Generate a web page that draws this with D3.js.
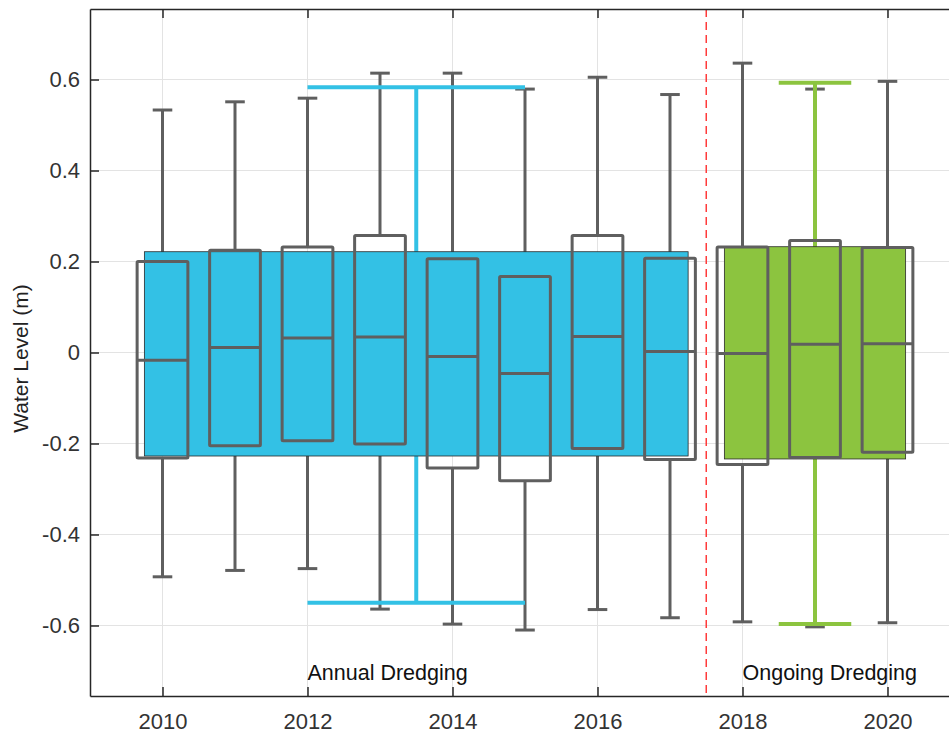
<!DOCTYPE html>
<html><head><meta charset="utf-8">
<script src="https://cdn.jsdelivr.net/npm/d3@7"></script>
<style>body{margin:0;background:#fff}svg{display:block}</style>
</head><body>
<script>
// ---- data ----
const years      = [2010, 2011, 2012, 2013, 2014, 2015, 2016, 2017, 2018, 2019, 2020];
const medians    = [-0.017, 0.011, 0.032, 0.034, -0.009, -0.046, 0.035, 0.002, -0.002, 0.018, 0.019];
const q3s        = [0.200, 0.225, 0.232, 0.257, 0.206, 0.167, 0.257, 0.207, 0.232, 0.246, 0.231];
const q1s        = [-0.232, -0.205, -0.194, -0.201, -0.254, -0.282, -0.211, -0.235, -0.246, -0.231, -0.219];
const whiskHigh  = [0.533, 0.551, 0.559, 0.614, 0.614, 0.579, 0.605, 0.567, 0.636, 0.579, 0.596];
const whiskLow   = [-0.493, -0.479, -0.475, -0.564, -0.597, -0.610, -0.565, -0.583, -0.592, -0.603, -0.594];

const groupNames  = ["Annual Dredging", "Ongoing Dredging"];
const groupStart  = [2009.75, 2017.75];
const groupEnd    = [2017.25, 2020.25];
const groupCenter = [2013.5, 2019];
const groupCapL   = [2012, 2018.5];
const groupCapR   = [2015, 2019.5];
const groupQ1     = [-0.2275, -0.234];
const groupQ3     = [0.2215, 0.2325];
const groupLow    = [-0.550, -0.597];
const groupHigh   = [0.583, 0.593];
const groupColors = ["#33C1E5", "#8CC43F"];
const labelX      = [2012, 2018];
const labelY      = -0.72;

const dividerYear = 2017.5;
const xTicks = [2010, 2012, 2014, 2016, 2018, 2020];
const yTicks = [-0.6, -0.4, -0.2, 0, 0.2, 0.4, 0.6];

// ---- layout ----
const W = 949, H = 733;
const pL = 90, pR = 960, pT = 9, pB = 696;
const boxW = 0.7, capW = 0.27;
const gray = "#5f5f5f";
const font = "'Liberation Sans', Arial, Helvetica, sans-serif";

const x = d3.scaleLinear().domain([2009, 2021]).range([pL, pR]);
const y = d3.scaleLinear().domain([-0.755, 0.755]).range([pB, pT]);

const svg = d3.select("body").append("svg").attr("width", W).attr("height", H);

// grid
const grid = svg.append("g");
grid.selectAll(".gx").data(xTicks).join("line")
  .attr("x1", d => x(d)).attr("x2", d => x(d)).attr("y1", pT).attr("y2", pB)
  .attr("stroke", "#e3e3e3").attr("stroke-width", 1);
grid.selectAll(".gy").data(yTicks).join("line")
  .attr("x1", pL).attr("x2", pR).attr("y1", d => y(d)).attr("y2", d => y(d))
  .attr("stroke", "#e3e3e3").attr("stroke-width", 1);

const idx = d3.range(years.length);

// gray whiskers
const wg = svg.append("g").attr("stroke", gray).attr("stroke-width", 3);
wg.selectAll(".wu").data(idx).join("line")
  .attr("x1", i => x(years[i])).attr("x2", i => x(years[i]))
  .attr("y1", i => y(q3s[i])).attr("y2", i => y(whiskHigh[i]));
wg.selectAll(".wl").data(idx).join("line")
  .attr("x1", i => x(years[i])).attr("x2", i => x(years[i]))
  .attr("y1", i => y(q1s[i])).attr("y2", i => y(whiskLow[i]));
wg.selectAll(".cu").data(idx).join("line")
  .attr("x1", i => x(years[i] - capW / 2)).attr("x2", i => x(years[i] + capW / 2))
  .attr("y1", i => y(whiskHigh[i])).attr("y2", i => y(whiskHigh[i]));
wg.selectAll(".cl").data(idx).join("line")
  .attr("x1", i => x(years[i] - capW / 2)).attr("x2", i => x(years[i] + capW / 2))
  .attr("y1", i => y(whiskLow[i])).attr("y2", i => y(whiskLow[i]));

// group whiskers and boxes
const gi = d3.range(groupNames.length);
const gg = svg.append("g");
gg.selectAll(".gw").data(gi).join("line")
  .attr("x1", i => x(groupCenter[i])).attr("x2", i => x(groupCenter[i]))
  .attr("y1", i => y(groupLow[i])).attr("y2", i => y(groupHigh[i]))
  .attr("stroke", i => groupColors[i]).attr("stroke-width", 4);
gg.selectAll(".gcu").data(gi).join("line")
  .attr("x1", i => x(groupCapL[i])).attr("x2", i => x(groupCapR[i]))
  .attr("y1", i => y(groupHigh[i])).attr("y2", i => y(groupHigh[i]))
  .attr("stroke", i => groupColors[i]).attr("stroke-width", 4);
gg.selectAll(".gcl").data(gi).join("line")
  .attr("x1", i => x(groupCapL[i])).attr("x2", i => x(groupCapR[i]))
  .attr("y1", i => y(groupLow[i])).attr("y2", i => y(groupLow[i]))
  .attr("stroke", i => groupColors[i]).attr("stroke-width", 4);
gg.selectAll("rect").data(gi).join("rect")
  .attr("x", i => x(groupStart[i])).attr("width", i => x(groupEnd[i]) - x(groupStart[i]))
  .attr("y", i => y(groupQ3[i])).attr("height", i => y(groupQ1[i]) - y(groupQ3[i]))
  .attr("fill", i => groupColors[i]).attr("stroke", "#2a2a2a").attr("stroke-width", 0.8);

// gray boxes and medians
const bg = svg.append("g");
bg.selectAll("rect").data(idx).join("rect")
  .attr("x", i => x(years[i] - boxW / 2)).attr("width", x(2010 + boxW) - x(2010))
  .attr("y", i => y(q3s[i])).attr("height", i => y(q1s[i]) - y(q3s[i]))
  .attr("fill", "none").attr("stroke", gray).attr("stroke-width", 3).attr("rx", 1);
bg.selectAll(".med").data(idx).join("line")
  .attr("x1", i => x(years[i] - boxW / 2)).attr("x2", i => x(years[i] + boxW / 2))
  .attr("y1", i => y(medians[i])).attr("y2", i => y(medians[i]))
  .attr("stroke", gray).attr("stroke-width", 3);

// divider
svg.append("line")
  .attr("x1", x(dividerYear)).attr("x2", x(dividerYear)).attr("y1", pT).attr("y2", pB)
  .attr("stroke", "#FF3B3B").attr("stroke-width", 1.5).attr("stroke-dasharray", "8,5");

// group labels
svg.selectAll(".glab").data(gi).join("text")
  .attr("x", i => x(labelX[i])).attr("y", y(labelY))
  .attr("font-family", font).attr("font-size", 21.5).attr("fill", "#111")
  .text(i => groupNames[i]);

// axes
const axisColor = "#262626";
const ax = svg.append("g").attr("transform", `translate(0,${pB})`)
  .call(d3.axisBottom(x).tickValues(xTicks).tickFormat(d3.format("d")).tickSizeInner(-9).tickSizeOuter(0).tickPadding(17));
const ay = svg.append("g").attr("transform", `translate(${pL},0)`)
  .call(d3.axisLeft(y).tickValues(yTicks).tickFormat(d => d === 0 ? "0" : d3.format(".1f")(d).replace("−", "-")).tickSizeInner(-9).tickSizeOuter(0).tickPadding(10));
const axt = svg.append("g").attr("transform", `translate(0,${pT})`)
  .call(d3.axisTop(x).tickValues(xTicks).tickFormat("").tickSizeInner(-9).tickSizeOuter(0));
[ax, ay, axt].forEach(g => {
  g.selectAll(".domain").attr("stroke", axisColor).attr("stroke-width", 1.5);
  g.selectAll(".tick line").attr("stroke", axisColor).attr("stroke-width", 1.5);
  g.selectAll("text").attr("font-family", font).attr("font-size", 22).attr("fill", "#333");
});
// right frame (off-canvas)
svg.append("line").attr("x1", pR).attr("x2", pR).attr("y1", pT).attr("y2", pB)
  .attr("stroke", axisColor).attr("stroke-width", 1.5);

// y label
svg.append("text")
  .attr("transform", `translate(28,${(pT + pB) / 2 + 6}) rotate(-90)`)
  .attr("text-anchor", "middle")
  .attr("font-family", font).attr("font-size", 21).attr("fill", "#222")
  .text("Water Level (m)");
</script>
</body></html>
